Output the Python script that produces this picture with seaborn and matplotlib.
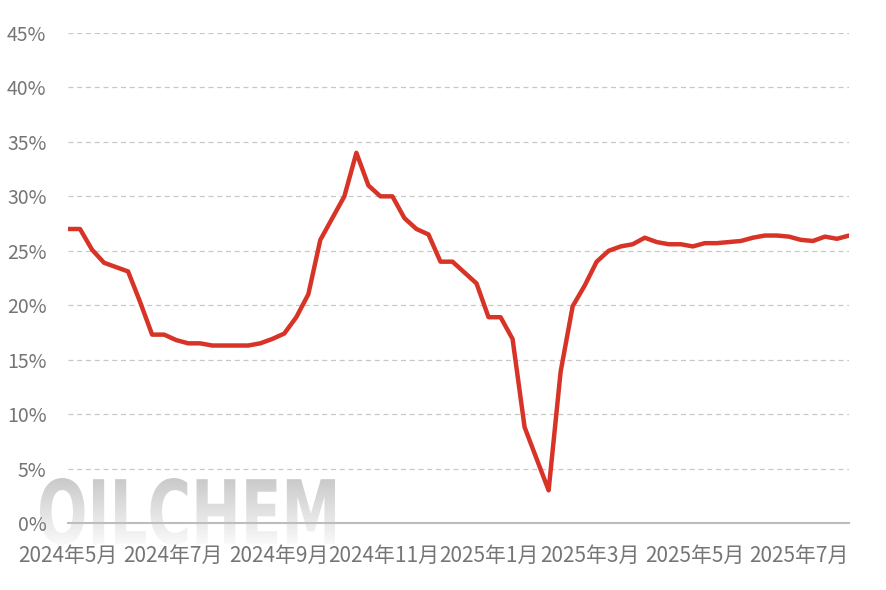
import numpy as np
import pandas as pd
import matplotlib
matplotlib.use("Agg")
import matplotlib.pyplot as plt
from matplotlib.textpath import TextPath
from matplotlib.patches import PathPatch
from matplotlib.font_manager import FontProperties
from matplotlib.colors import LinearSegmentedColormap
import matplotlib.transforms as mtrans
import seaborn as sns

# ---- data ----
start_date = "2024-05-01"
n_weeks = 66
values = [27.0, 27.0, 25.1, 23.9, 23.5, 23.1, 20.3, 17.3, 17.3, 16.8,
          16.5, 16.5, 16.3, 16.3, 16.3, 16.3, 16.5, 16.9, 17.4, 18.9,
          21.0, 26.0, 28.0, 30.0, 34.0, 31.0, 30.0, 30.0, 28.0, 27.0,
          26.5, 24.0, 24.0, 23.0, 22.0, 18.9, 18.9, 16.9, 8.8, 5.9,
          3.0, 13.9, 19.9, 21.8, 24.0, 25.0, 25.4, 25.6, 26.2, 25.8,
          25.6, 25.6, 25.4, 25.7, 25.7, 25.8, 25.9, 26.2, 26.4, 26.4,
          26.3, 26.0, 25.9, 26.3, 26.1, 26.4]
tick_dates = ["2024-05-01", "2024-07-01", "2024-09-01", "2024-11-01",
              "2025-01-01", "2025-03-01", "2025-05-01", "2025-07-01"]
tick_labels = ["2024年5月", "2024年7月", "2024年9月", "2024年11月",
               "2025年1月", "2025年3月", "2025年5月", "2025年7月"]
y_ticks = [0, 5, 10, 15, 20, 25, 30, 35, 40, 45]
y_labels = [f"{v}%" for v in y_ticks]
watermark = "OILCHEM"

dates = pd.date_range(start_date, periods=n_weeks, freq="7D")
df = pd.DataFrame({"date": dates, "value": values})

sns.set_theme(style="white")
plt.rcParams["font.family"] = ["Noto Sans CJK SC", "DejaVu Sans"]

W, H = 886, 590
fig = plt.figure(figsize=(W/100, H/100), dpi=100)

# ---- watermark (gradient-filled text) ----
wm_ax = fig.add_axes([0, 0, 1, 1], zorder=0)
wm_ax.set_xlim(0, W)
wm_ax.set_ylim(0, H)
wm_ax.axis("off")
tp = TextPath((0, 0), watermark, size=100,
              prop=FontProperties(family="DejaVu Sans", weight="bold"))
bb = tp.get_extents()
x0, x1, y0, y1 = 40, 335, H - 545, H - 478
tr = (mtrans.Affine2D().translate(-bb.x0, -bb.y0)
      .scale((x1 - x0) / bb.width, (y1 - y0) / bb.height).translate(x0, y0))
path = tr.transform_path(tp)
patch = PathPatch(path, facecolor="none", edgecolor="none", transform=wm_ax.transData)
wm_ax.add_patch(patch)
grad = np.linspace(0, 1, 256).reshape(-1, 1)
cmap = LinearSegmentedColormap.from_list("wm", ["#fafafa", "#c9c9c9"])
im = wm_ax.imshow(grad, extent=[x0, x1, y0, y1], origin="lower", aspect="auto",
                  cmap=cmap, zorder=0)
im.set_clip_path(patch)
wm_ax.set_xlim(0, W)
wm_ax.set_ylim(0, H)

# ---- main chart ----
ax = fig.add_axes([68/W, (H-523)/H, (849-68)/W, (523-33)/H], zorder=2)
ax.patch.set_alpha(0)

sns.lineplot(data=df, x="date", y="value", ax=ax, color="#d73326",
             linewidth=3.2, zorder=3)

ax.set_xlim(dates[0], dates[-1])
ax.set_ylim(0, 45)
ax.set_yticks(y_ticks)
ax.set_yticklabels(y_labels)
ax.set_xticks(pd.to_datetime(tick_dates))
ax.set_xticklabels(tick_labels)

for y in y_ticks[1:]:
    ax.axhline(y, color="#c8c8c8", linewidth=0.9, linestyle=(0, (4, 3)), zorder=1)

for s in ["top", "right", "left"]:
    ax.spines[s].set_visible(False)
ax.spines["bottom"].set_color("#bdbdbd")
ax.spines["bottom"].set_linewidth(1.5)

ax.tick_params(axis="y", length=0, pad=15.5, labelsize=14, labelcolor="#757575")
ax.tick_params(axis="x", direction="in", length=5, width=1.2, color="#bdbdbd",
               pad=16, labelsize=15, labelcolor="#757575")
ax.set_xlabel("")
ax.set_ylabel("")

fig.savefig("out.png", dpi=100)
